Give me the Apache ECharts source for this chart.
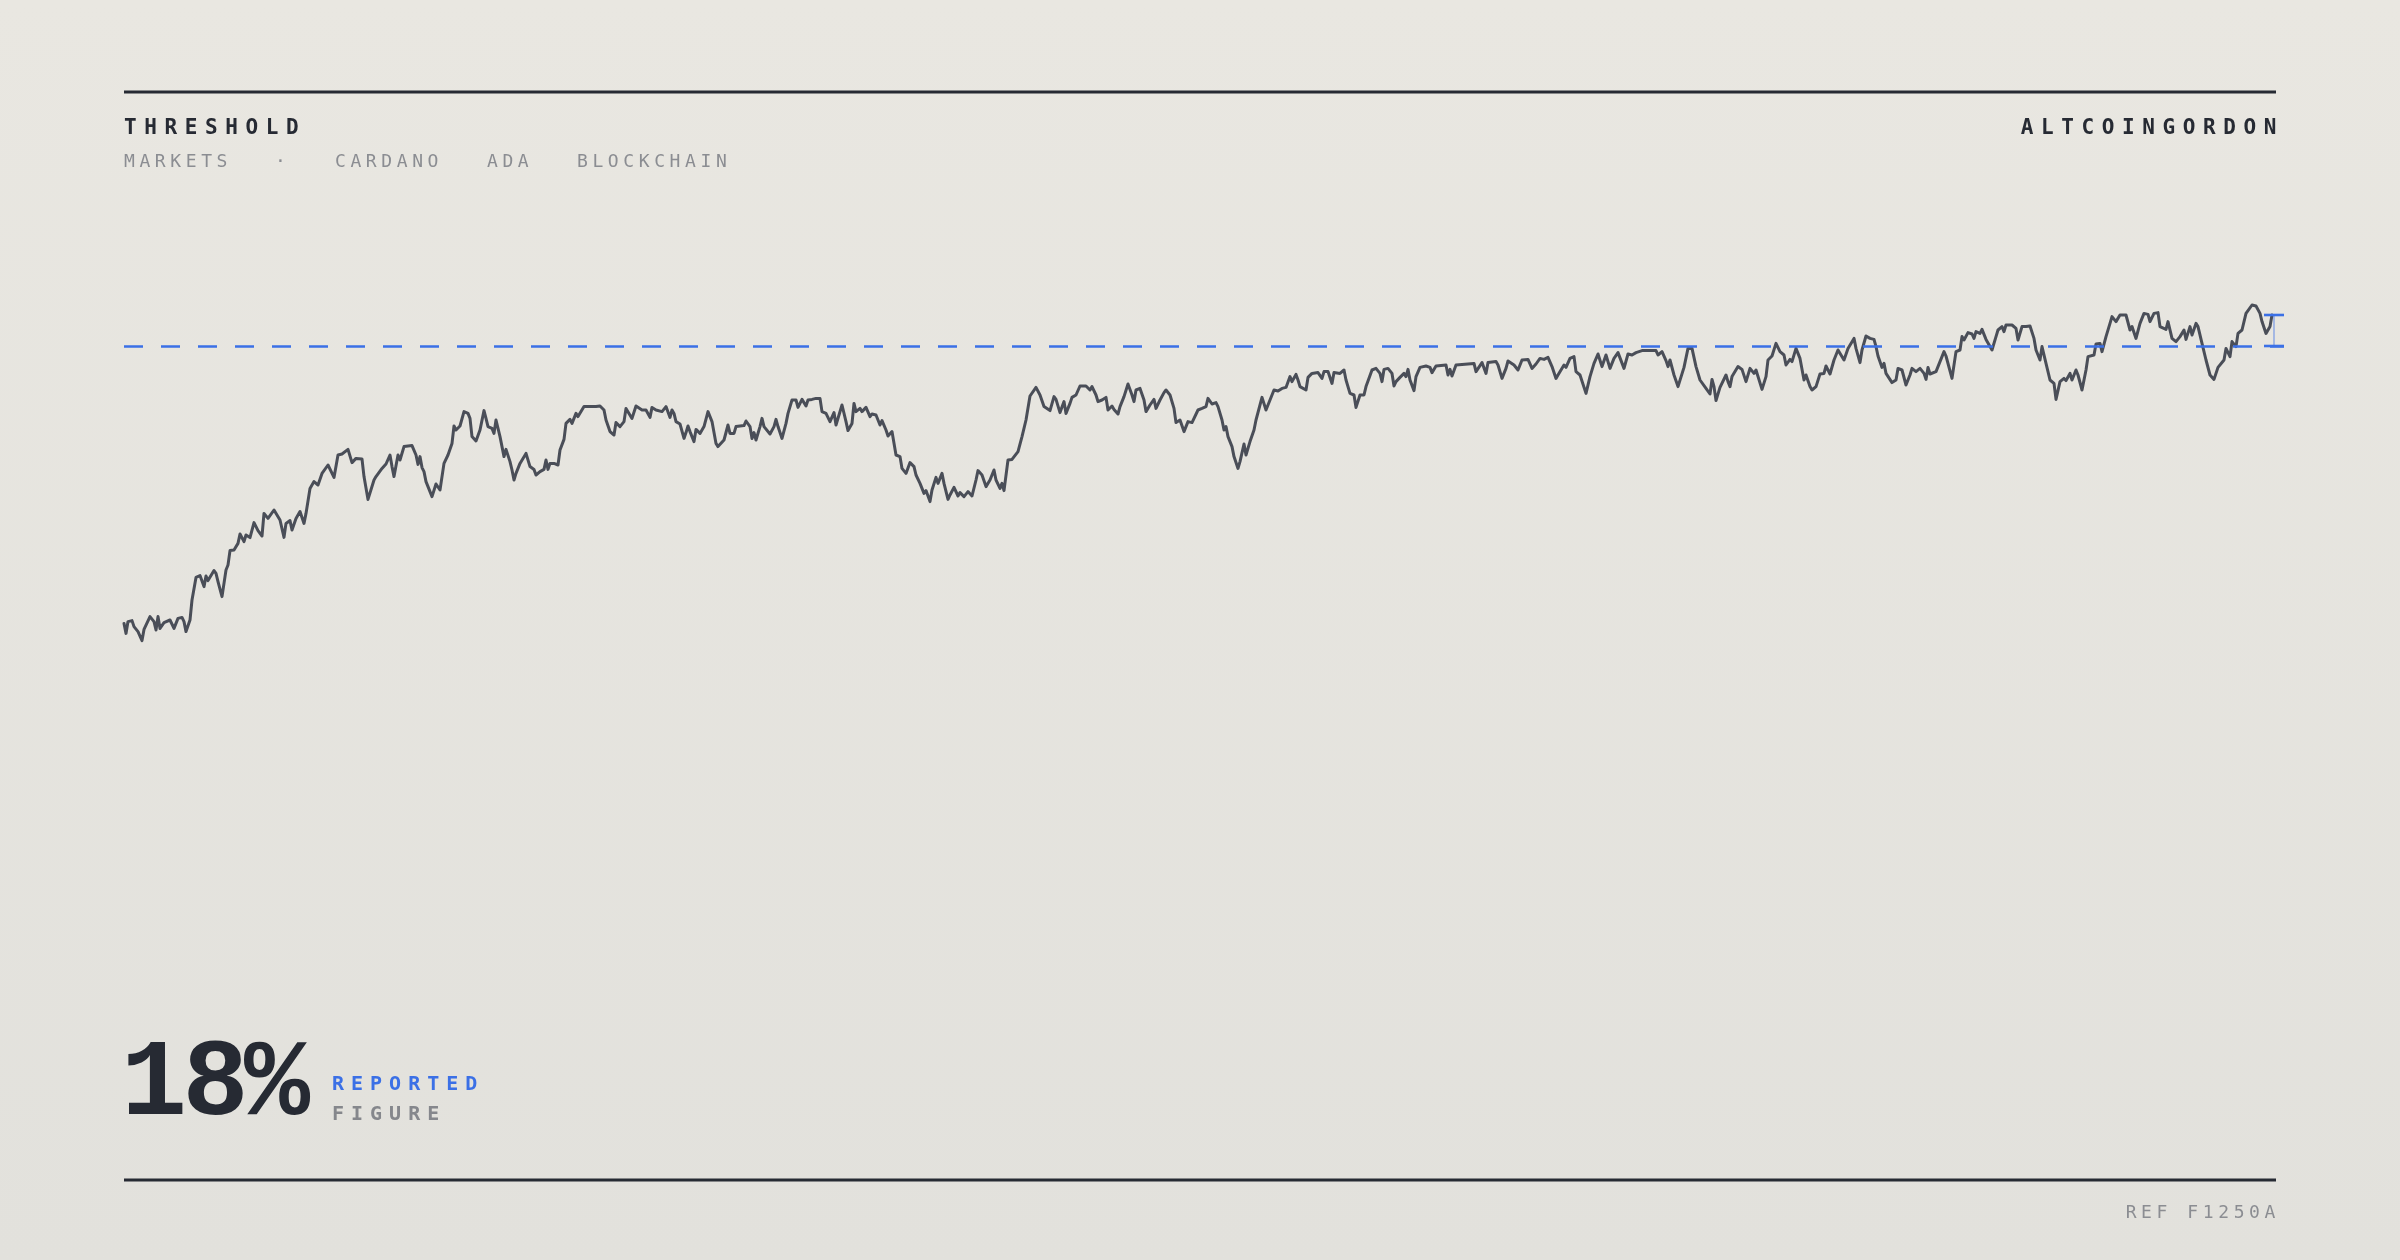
<!DOCTYPE html>
<html>
<head>
<meta charset="utf-8">
<script src="https://cdn.jsdelivr.net/npm/echarts@6/dist/echarts.min.js"></script>
<style>
html,body{margin:0;padding:0;width:2400px;height:1260px;overflow:hidden;background:#e6e4df;}
#wrap{position:relative;width:2400px;height:1260px;}
#chart{position:absolute;left:0;top:0;width:2400px;height:1260px;z-index:1;}
.t{position:absolute;font-family:'DejaVu Sans Mono',monospace;white-space:nowrap;line-height:1;z-index:2;}
.hd{font-size:21px;font-weight:bold;letter-spacing:7.6px;color:#262a33;top:117px;}
.sub{font-size:18px;letter-spacing:4.6px;color:#8b8d92;top:152px;}
</style>
</head>
<body>
<div id="wrap">
  <div id="chart"></div>
  <div class="t hd" style="left:124px;">THRESHOLD</div>
  <div class="t hd" style="right:116px;">ALTCOINGORDON</div>
  <div class="t sub" style="left:124px;">MARKETS</div>
  <div class="t sub" style="left:275px;">·</div>
  <div class="t sub" style="left:335px;">CARDANO</div>
  <div class="t sub" style="left:487px;">ADA</div>
  <div class="t sub" style="left:577px;">BLOCKCHAIN</div>
  <div class="t" id="big" style="left:121px;top:1030px;font-family:'Liberation Mono',monospace;font-size:110px;font-weight:bold;letter-spacing:-4.5px;color:#262a33;">18%</div>
  <div class="t" style="left:332px;top:1073px;font-size:20px;font-weight:bold;letter-spacing:7px;color:#3b70e6;">REPORTED</div>
  <div class="t" style="left:332px;top:1103px;font-size:20px;font-weight:bold;letter-spacing:7px;color:#85878c;">FIGURE</div>
  <div class="t" style="right:120px;top:1203px;font-size:18px;letter-spacing:4.6px;color:#8b8d92;">REF F1250A</div>
</div>
<script>
// Day index along the period
const days = [
  0,1,2,4,5,6,7,9,10,11,
  13,14,15,16,17,18,20,23,25,27,
  29,30,31,33,34,36,38,40,41,42,
  45,46,47,49,51,52,53,55,57,58,
  60,61,63,65,67,69,70,72,75,76,
  78,80,81,83,84,86,88,89,90,91,
  93,95,96,97,99,100,102,103,105,107,
  109,110,112,113,114,116,119,120,122,125,
  126,129,131,133,134,135,137,138,140,142,
  143,144,146,147,148,149,150,151,154,156,
  157,158,160,162,164,165,166,168,170,172,
  173,174,176,178,180,181,182,184,185,186,
  188,190,191,193,194,195,196,198,199,201,
  202,203,205,206,208,210,211,212,213,215,
  217,218,220,221,223,224,226,227,228,230,
  234,235,236,238,240,241,243,244,245,246,
  248,250,251,252,254,256,257,259,260,261,
  263,264,266,267,269,271,272,273,274,275,
  276,278,280,281,282,283,285,286,288,290,
  292,294,296,297,298,300,302,303,305,306,
  308,310,311,313,314,315,316,318,319,320,
  321,323,325,326,327,329,331,332,334,336,
  337,339,341,342,344,346,348,349,351,353,
  355,356,359,361,362,364,365,366,368,369,
  371,373,374,376,378,379,381,382,384,386,
  388,389,391,393,395,396,398,400,401,403,
  404,406,407,409,410,412,413,415,417,418,
  420,422,424,426,427,429,431,433,435,436,
  438,439,440,442,444,447,449,451,453,456,
  458,460,461,463,465,466,468,470,471,473,
  474,476,478,481,483,484,486,487,489,491,
  492,494,495,497,498,500,502,504,505,506,
  508,510,511,513,515,516,518,520,521,523,
  525,526,528,530,532,534,
  535,537,539,541,542,544,546,547,549,550,
  551,552,554,555,557,558,560,561,563,565,
  566,569,571,572,575,577,579,581,583,584,
  586,587,588,591,592,594,597,599,600,602,
  604,605,608,610,611,613,615,616,618,620,
  621,624,626,628,629,630,632,634,635,636,
  638,640,641,642,643,645,646,648,651,653,
  654,656,661,662,663,664,666,675,676,679,
  681,682,686,687,689,691,692,695,697,699,
  702,704,706,708,710,712,714,
  716,717,720,721,723,725,726,728,731,733,
  735,737,739,741,743,745,747,748,750,752,
  754,756,759,763,766,767,769,771,772,773,
  775,777,780,782,784,786,788,789,791,792,
  793,794,795,796,798,799,801,802,803,804,
  807,809,811,813,814,815,816,819,821,822,
  824,826,828,830,831,833,834,836,838,840,
  841,843,844,846,848,850,851,853,855,857,
  858,860,862,865,866,868,869,871,873,875,
  876,877,879,880,881,884,886,887,889,891,
  892,
  893,894,896,898,900,901,902,903,906,907,
  910,911,914,916,918,919,920,922,924,925,
  926,928,929,931,932,934,936,937,939,940,
  941,944,946,947,949,951,953,955,956,958,
  959,961,963,965,966,968,970,971,973,974,
  976,977,979,981,982,985,986,988,989,991,
  993,994,996,998,1001,1003,1004,1006,1008,1010,
  1012,1013,1015,1017,1018,1021,1022,1024,1026,1028,
  1030,1031,1033,1034,1036,1037,1039,1041,1043,1045,
  1047,1050,1051,1053,1054,1056,1057,1059,1061,1064,
  1066,1068,1069,1070,1071,1073,1074
];
// Index level on each day
const values = [
  138.3,133.3,139.2,139.7,136.7,136.3,134.2,129.7,135.3,135.8,
  141.7,142,139.2,135,141.7,135.8,138.7,140,135.8,140.8,
  141.3,139.2,134.2,140,150,161.3,162.2,156.7,162,159.7,
  164.7,163.3,159.2,151.7,165,167.5,174.7,175,178.3,183,
  179.2,182.5,181.2,188.7,184.7,182,193.3,190.8,195,194.2,
  190,181.3,188.3,189.7,185,190.8,194.2,193.3,188.3,193.3,
  205.8,209.2,209.7,207.5,213.3,212.5,217.5,216.7,211.3,222.5,
  223,223.7,225.3,224.7,218.7,220.8,220.5,211.7,200.3,210,
  211.7,215.8,218,222.5,216.7,211.7,222.5,220,226.7,227,
  226.3,227.2,222.5,217.8,221.7,216.2,214.2,209.2,201.7,208,
  208,205,218.3,222.5,228.3,237,235,237,244.2,243.3,
  240.8,231.7,229.5,235,244.7,240.8,236.7,235.8,233.3,240,
  231.7,221.7,225.3,219.2,215,210,213.3,218.3,218.7,223.3,
  223,216.7,215.3,212.5,214.2,215.3,220,215.3,218.3,218.3,
  217.5,225,230.3,238.3,240.3,238.3,243.3,241.7,242.5,246.7,
  246.7,245.8,246.7,247,245,240,234.2,233.7,232.5,238.7,
  236.7,239.2,245.8,246.7,240.8,247,247.2,245,245.8,245,
  241.3,246.3,245,245,244.2,246.7,245.8,241.3,245,243.3,
  239.2,238,230.8,233.7,237,234.2,229.2,235.3,233.3,236.7,
  244.2,239.2,228.3,226.7,226.2,230,237.5,233.3,233.3,236.7,
  237,237.2,239.5,236.7,230.8,233.7,230,236.7,240.8,236.7,
  237.5,233,236.7,240.3,236.7,230.8,238.3,243.3,250,250,
  246.3,250.3,247,250,250.3,250.8,250.8,244.2,243.3,239.2,
  243.7,237.5,247.5,239.2,234.7,238.3,248.3,244.2,245.8,244.2,
  246.3,241.7,243,242.5,237.5,239.7,235,232,234.2,222.5,
  221.7,215.8,213.3,218.7,216.7,212.5,208.3,203.3,204.7,199.2,
  205,211.3,208.3,213.3,208.3,200.3,202.5,206.3,202,203.7,
  201.7,204.2,202,210,214.7,212.5,206.7,210,215,210,
  205.8,208.3,204.7,220,220.3,224.2,231.7,240,252,256.3,
  252.5,246.7,247.5,244.7,251.7,250.3,243.7,249.2,243.3,248.3,
  251.3,252.5,257,257,255,256.7,252.5,249.2,250,251.3,
  245,247,245.3,243,246.7,251.7,258,252.5,249.2,255,
  255.8,250,244.2,247.5,250.3,245.8,250,253.7,255,252.5,
  245.8,238.7,240,234.2,239.2,238.7,
  238,245,245.8,246.7,250.8,248,248.7,246.7,240,235,
  236.7,231.7,226.7,221.7,215.8,219.2,228,222.5,229.2,235,
  240,251.3,245,245.8,255,254.5,255.8,256.3,261.7,259.2,
  262.8,260,256.7,255,261.3,263.3,263.7,260.8,264.2,264.2,
  258.3,263.7,263.3,265,260,253.3,252.5,246.3,252.5,252.5,
  256.7,265,265.8,263.3,259.2,265.3,265.8,263.3,257,259.2,
  261.3,263.3,261.7,265.3,260,254.7,261.7,266.3,267,266.3,
  263.7,267,267.5,262.5,265.3,262,267.5,268.3,264.2,268.7,
  263.3,268.7,269.2,267.5,260.8,265.8,269.5,267.5,265,270,
  270.3,265.8,268,270.8,270.3,271.3,266.7,
  260.8,262.5,267.5,266.3,270.8,271.7,264.2,262.5,253.3,261.7,
  268.3,273,266.7,272.5,265.8,270.8,273.7,273,265.8,273,
  272.5,273.7,274.7,274.7,274.7,272.5,274.2,269.7,266.7,270,
  262.5,256.7,266.3,275.8,275.8,266.7,260,260.3,255.8,256.7,
  253,260.3,256.7,249.7,256.3,256.7,262.5,259.2,256.7,261.7,
  266.7,265.3,259.2,265.8,266.7,263.3,265,255.3,261.7,270,
  272,278.3,274.2,272.5,267.5,270.3,269.2,275.8,270.8,260,
  262.5,256.7,255,256.7,263,263.3,267,263,270,275,
  275.8,270,275.8,280.8,275.8,268.7,275,282,280.8,280.3,
  276.7,272,266.3,268.3,263.3,258.7,260,265.8,265,257.5,
  260,
  262.5,265.8,264.2,265.8,263.3,260.3,266.3,263,264.2,263.3,
  274.2,272,260.8,274.2,275,281.7,280,283.7,283,280.8,
  284.2,283.3,285.3,280.3,280.8,275,281.7,285,286.7,284.2,
  287.5,287.5,285.8,280,286.7,286.7,287,280.8,275,270,
  276.7,268.3,260,258.3,250.3,259.2,260.8,259.7,263.3,260,
  265,262.5,255,265,271.7,272.5,278,278.3,274.2,281.7,
  288.3,291.7,289.2,292.5,292.5,285,286.7,280.8,288.3,293.3,
  292.8,289.2,293.3,293.7,286.7,285.3,289.2,280.8,279.2,281.7,
  285,280.3,286.7,282.5,288.3,286.7,278.3,270,262.5,260.3,
  266.3,270,275.8,271.7,279.2,276.7,283.3,285,293.3,297.5,
  297,293.3,289.2,288.7,283.3,286.7,292.5
];
// Reference level drawn as the dashed line
const threshold = 277;

const points = days.map((d, i) => [d, values[i]]);
const lastDay = days[days.length - 1];
const lastVal = values[values.length - 1];

const BLUE = '#3b70e6';
const INK = '#262a33';

const chart = echarts.init(document.getElementById('chart'), null, {renderer: 'canvas'});
chart.setOption({
  animation: false,
  backgroundColor: new echarts.graphic.LinearGradient(0, 0, 0, 1, [
    {offset: 0, color: '#e9e7e1'},
    {offset: 1, color: '#e2e1dc'}
  ]),
  grid: {left: 124, right: 116, top: 280, bottom: 580},
  xAxis: {type: 'value', min: 0, max: 1080, show: false},
  yAxis: {type: 'value', min: 110, max: 310, show: false},
  series: [
    {
      type: 'line',
      data: points,
      symbol: 'none',
      showSymbol: false,
      z: 3,
      lineStyle: {color: '#4a4e58', width: 3, join: 'round', cap: 'round'},
      emphasis: {disabled: true},
      markLine: {
        silent: true,
        symbol: ['none', 'none'],
        label: {show: false},
        emphasis: {disabled: true},
        lineStyle: {color: BLUE, width: 2.6, type: [19, 18], opacity: 1},
        data: [{yAxis: threshold}]
      }
    },
    {
      type: 'custom',
      clip: false,
      z: 4,
      silent: true,
      data: [[lastDay, threshold, lastVal]],
      renderItem: function (params, api) {
        const a = api.coord([api.value(0), api.value(1)]);
        const b = api.coord([api.value(0), api.value(2)]);
        const cx = a[0] + 2;
        const cap = {stroke: BLUE, lineWidth: 2.6};
        return {
          type: 'group',
          children: [
            {type: 'line', shape: {x1: cx, y1: a[1], x2: cx, y2: b[1]}, style: {stroke: BLUE, lineWidth: 1.4, opacity: 0.55}},
            {type: 'line', shape: {x1: cx - 10, y1: a[1], x2: cx + 10, y2: a[1]}, style: cap},
            {type: 'line', shape: {x1: cx - 10, y1: b[1], x2: cx + 10, y2: b[1]}, style: cap}
          ]
        };
      }
    }
  ],
  graphic: [
    {type: 'line', shape: {x1: 124, y1: 92, x2: 2276, y2: 92}, style: {stroke: INK, lineWidth: 3}},
    {type: 'line', shape: {x1: 124, y1: 1180, x2: 2276, y2: 1180}, style: {stroke: INK, lineWidth: 3}}
  ]
});
</script>
</body>
</html>
